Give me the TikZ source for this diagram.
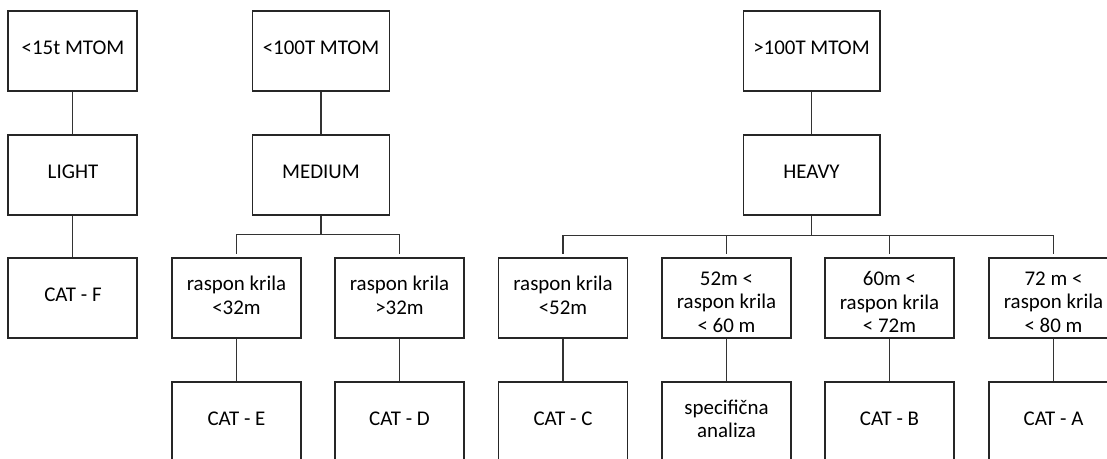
\documentclass[tikz,border=0pt]{standalone}
\usepackage{fontspec}
\setmainfont{Carlito}
\begin{document}
\begin{tikzpicture}[x=0.75pt,y=-0.75pt,
  box/.style={draw=black!85,line width=1pt,minimum height=60pt,inner sep=0pt},
  nw/.style={minimum width=96.75pt},
  ww/.style={minimum width=102.5pt},
  lbl/.style={align=center,inner sep=0pt,font=\fontsize{15.7pt}{17.6pt}\selectfont},
  link/.style={draw=black!80,line width=1pt},
  bus/.style={link,shorten >=2.25pt}]
\clip (0,0) rectangle (1107,458);
% light column
\node[box,nw] (l1) at (72.5,51) {};
\node[box,nw] (l2) at (72.5,175) {};
\node[box,nw] (l3) at (72.5,298) {};
\node[lbl] (l1t) at (73,48) {<15t MTOM};
\node[lbl] (l2t) at (73,172) {LIGHT};
\node[lbl] (l3t) at (73,295) {CAT - F};
% medium column
\node[box,ww] (m1) at (321,51) {};
\node[box,ww] (m2) at (321,175) {};
\node[lbl] (m1t) at (321,48) {<100T MTOM};
\node[lbl] (m2t) at (321,172) {MEDIUM};
% heavy column
\node[box,ww] (h1) at (811.5,51) {};
\node[box,ww] (h2) at (811.5,175) {};
\node[lbl] (h1t) at (811.5,48) {>100T MTOM};
\node[lbl] (h2t) at (811.5,172) {HEAVY};
% row 3
\node[box,nw] (r3e) at (236.5,298) {};
\node[box,nw] (r3d) at (399.5,298) {};
\node[box,nw] (r3c) at (563,298) {};
\node[box,nw] (r3s) at (726.5,298) {};
\node[box,nw] (r3b) at (889.5,298) {};
\node[box,nw] (r3a) at (1053.5,298) {};
\node[lbl] (r3et) at (236.5,295.5) {raspon krila\\<32m};
\node[lbl] (r3dt) at (399.5,295.5) {raspon krila\\>32m};
\node[lbl] (r3ct) at (563,295.5) {raspon krila\\<52m};
\node[lbl] (r3st) at (726.5,302) {52m <\\raspon krila\\< 60 m};
\node[lbl] (r3bt) at (889.5,302) {60m <\\raspon krila\\< 72m};
\node[lbl] (r3at) at (1053.5,302) {72 m <\\raspon krila\\< 80 m};
% row 4
\node[box,nw] (r4e) at (236.5,422) {};
\node[box,nw] (r4d) at (399.5,422) {};
\node[box,nw] (r4c) at (563,422) {};
\node[box,nw] (r4s) at (726.5,422) {};
\node[box,nw] (r4b) at (889.5,422) {};
\node[box,nw] (r4a) at (1053.5,422) {};
\node[lbl] (r4et) at (236.5,419) {CAT - E};
\node[lbl] (r4dt) at (399.5,419) {CAT - D};
\node[lbl] (r4ct) at (563,419) {CAT - C};
\node[lbl] (r4st) at (726.5,419) {specifična\\analiza};
\node[lbl] (r4bt) at (889.5,419) {CAT - B};
\node[lbl] (r4at) at (1053.5,419) {CAT - A};
% connectors
\draw[link] (l1) -- (l2);
\draw[link] (l2) -- (l3);
\draw[link] (m1) -- (m2);
\draw[link] (h1) -- (h2);
\draw[link] (m2.south) -- ++(0,19) coordinate (mbus);
\draw[bus] (mbus) -| (r3e.north);
\draw[bus] (mbus) -| (r3d.north);
\draw[link] (h2.south) -- ++(0,20) coordinate (hbus);
\draw[bus] (hbus) -| (r3c.north);
\draw[bus] (hbus) -| (r3s.north);
\draw[bus] (hbus) -| (r3b.north);
\draw[bus] (hbus) -| (r3a.north);
\foreach \n in {e,d,c,s,b,a} {\draw[link] (r3\n) -- (r4\n);}
\end{tikzpicture}
\end{document}
